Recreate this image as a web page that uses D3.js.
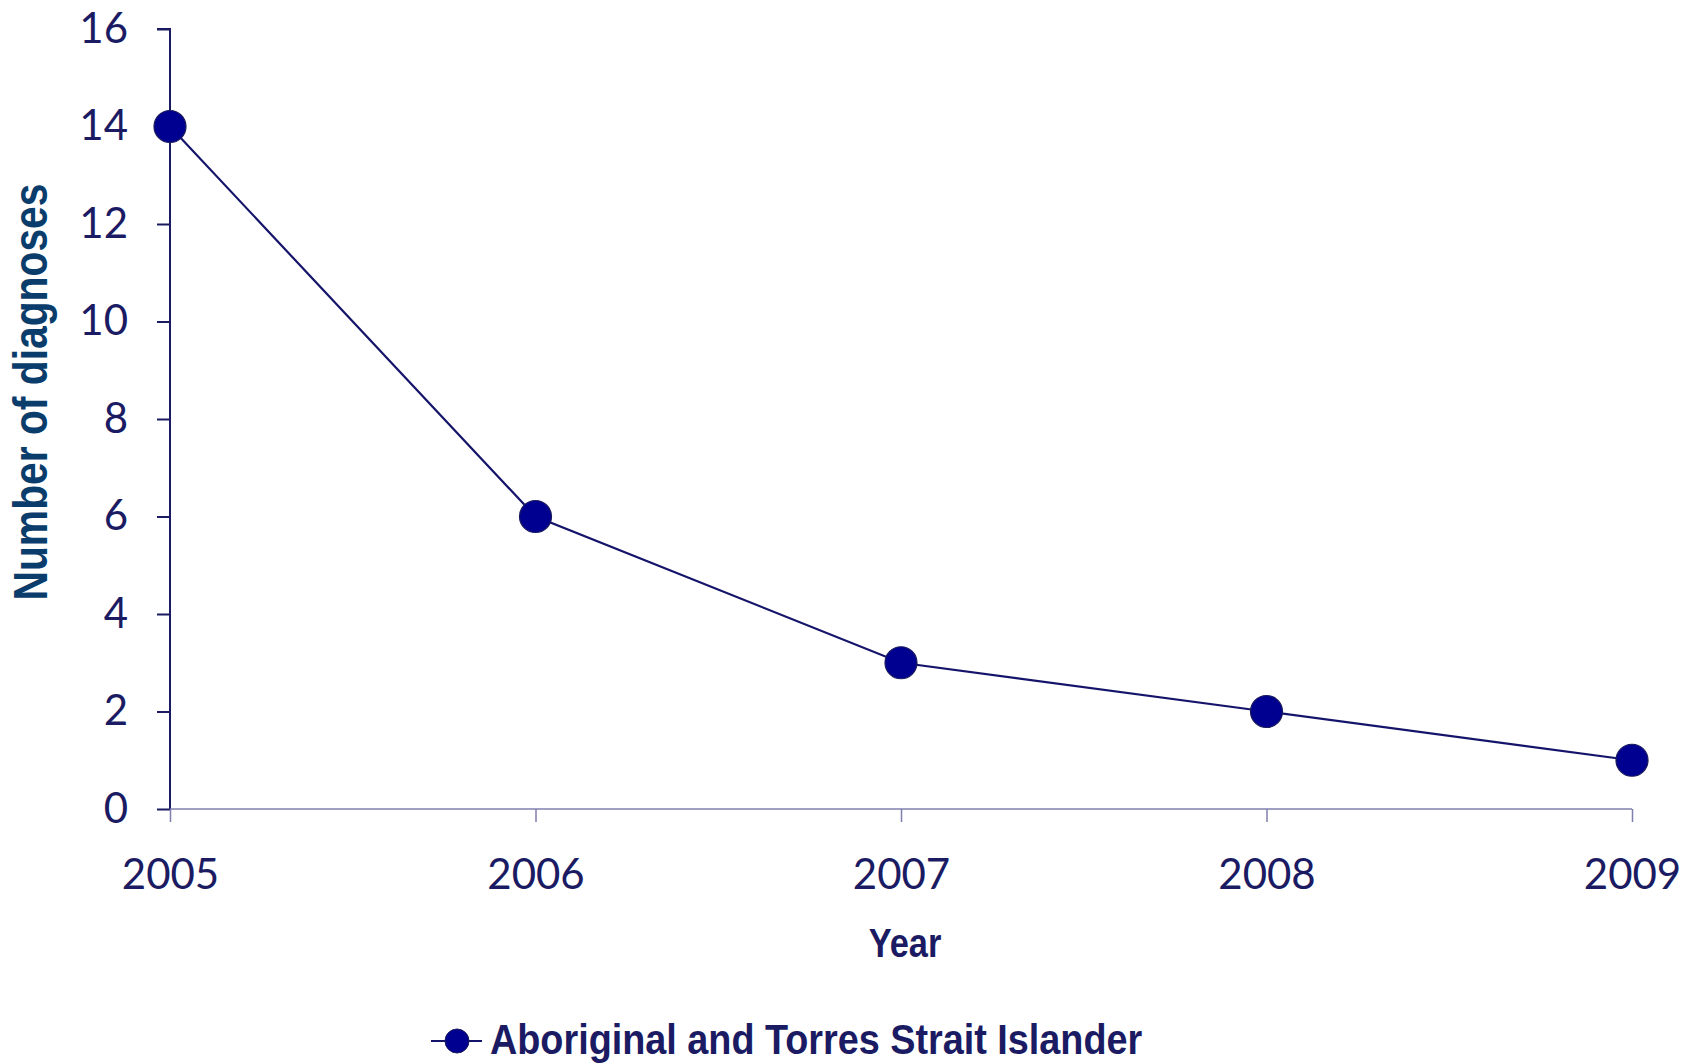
<!DOCTYPE html>
<html><head><meta charset="utf-8">
<script src="https://cdn.jsdelivr.net/npm/d3@7"></script>
<style>body{margin:0;background:#fff}svg{display:block}</style>
</head><body>
<svg id="c" width="1699" height="1064"></svg>
<script>
const years = ["2005","2006","2007","2008","2009"];
const diagnoses = [14, 6, 3, 2, 1];
const yTicks = [0,2,4,6,8,10,12,14,16];
const seriesName = "Aboriginal and Torres Strait Islander";
const xTitle = "Year";
const yTitle = "Number of diagnoses";

const svg = d3.select("#c");
const navy = "#1b1b63";
const boldFont = "'Liberation Sans', Arial, sans-serif";
const x = d3.scalePoint().domain(years).range([170, 1632]);
const y = d3.scaleLinear().domain([0, 16]).range([809, 29]);

// y axis
const ya = svg.append("g").attr("transform","translate(170,0)")
  .call(d3.axisLeft(y).tickValues(yTicks).tickSize(13).tickPadding(29).tickFormat(d3.format("d")));
ya.select(".domain").attr("stroke", navy).attr("stroke-width", 2).attr("d", "M-13,29H0V809");
ya.selectAll(".tick line").attr("stroke", navy).attr("stroke-width", 2);
ya.selectAll(".tick text").attr("fill", navy).style("font-family","Lato, sans-serif").style("font-size","42px");

// x axis
const xa = svg.append("g").attr("transform","translate(0,809)")
  .call(d3.axisBottom(x).tickSize(13).tickPadding(37));
xa.select(".domain").attr("stroke", "#7f7fae").attr("stroke-width", 1.5).attr("d","M170,0H1632");
xa.selectAll(".tick line").attr("stroke", "#7f7fae").attr("stroke-width", 1.5);
xa.selectAll(".tick text").attr("fill", navy).style("font-family","Lato, sans-serif").style("font-size","42px");

// line
const line = d3.line().x((d,i)=>x(years[i])).y(d=>y(d));
svg.append("path").datum(diagnoses).attr("d", line)
  .attr("fill","none").attr("stroke","#14146b").attr("stroke-width",2.2);
svg.selectAll("circle.pt").data(diagnoses).join("circle").attr("class","pt")
  .attr("cx",(d,i)=>x(years[i])).attr("cy",d=>y(d)).attr("r",16)
  .attr("fill","#000090").attr("stroke","#1a1a5c").attr("stroke-width",1.2);

// titles
svg.append("text").attr("transform","translate(905,957) scale(0.86,1)").attr("text-anchor","middle")
  .attr("fill", navy).style("font-family",boldFont)
  .style("font-weight","bold").style("font-size","40px").text(xTitle);
svg.append("text").attr("transform","translate(47,392) rotate(-90) scale(0.85,1)").attr("text-anchor","middle")
  .attr("fill","#0a3d6b").style("font-family",boldFont)
  .style("font-weight","bold").style("font-size","48px").text(yTitle);

// legend
const lg = svg.append("g").attr("transform","translate(0,1041)");
lg.append("line").attr("x1",431).attr("x2",482).attr("y1",0).attr("y2",0)
  .attr("stroke","#14146b").attr("stroke-width",2.2);
lg.append("circle").attr("cx",457).attr("cy",0).attr("r",12)
  .attr("fill","#000090").attr("stroke","#1a1a5c").attr("stroke-width",1);
lg.append("text").attr("transform","translate(490,13) scale(0.9,1)").attr("fill",navy)
  .style("font-family",boldFont).style("font-weight","bold")
  .style("font-size","42px").text(seriesName);
</script>
</body></html>
